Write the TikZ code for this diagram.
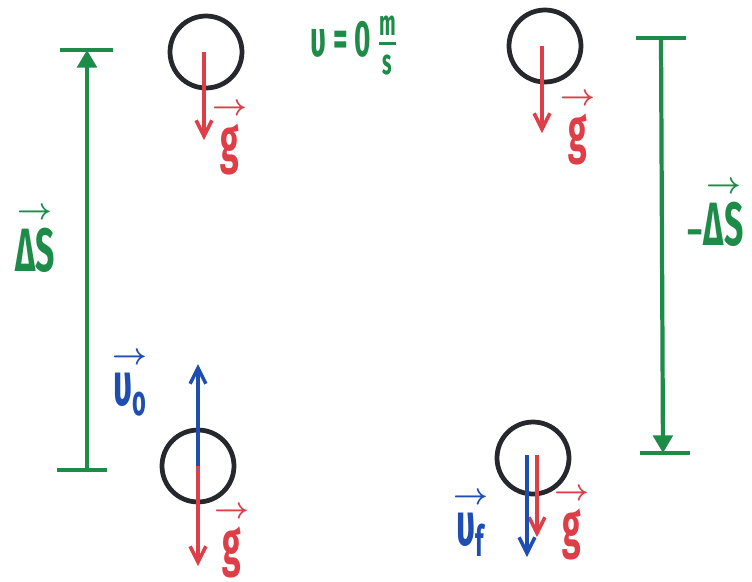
\documentclass[tikz,border=0pt]{standalone}
\usepackage{amsmath}
\usepackage{fontspec}
\setmainfont{Fira Sans}
\usetikzlibrary{arrows.meta}
\definecolor{pgreen}{RGB}{28,140,72}
\definecolor{pred}{RGB}{222,62,72}
\definecolor{pblue}{RGB}{30,78,178}
\definecolor{pblack}{RGB}{38,40,46}
\tikzset{
  ball/.style={circle, draw=pblack, line width=2.7pt, minimum size=1.44cm, inner sep=0pt},
  gvec/.style={pred, line width=2.2pt, -{Straight Barb[length=9pt,width=9pt,line width=2pt]}},
  vvec/.style={pblue, line width=2.2pt, -{Straight Barb[length=9pt,width=9pt,line width=2pt]}},
  ruler/.style={pgreen, line width=2.4pt},
  rulerarrow/.style={pgreen, line width=2.4pt, -{Triangle[length=10pt,width=11pt]}},
  lbl/.style={inner sep=0pt, font=\bfseries\fontsize{24}{26}\selectfont},
}
\newcommand{\hw}[1]{\scalebox{0.8}[1.45]{#1}}
\newcommand{\varr}[1]{$\overset{\scriptstyle\boldsymbol{\rightarrow}}{\text{\hw{#1}}}$}
\begin{document}
\begin{tikzpicture}[x=0.02cm, y=-0.02cm]
\useasboundingbox (0,0) rectangle (752,582);
\fill[white] (0,0) rectangle (752,582);

% balls
\node[ball] (b1) at (206,52) {};
\node[ball] (b2) at (545,46) {};
\node[ball] (b3) at (198,466) {};
\node[ball] (b4) at (533,458) {};

% gravity vectors
\coordinate (g1e) at (204,140);
\coordinate (g2e) at (542,133);
\coordinate (g3e) at (198,566);
\coordinate (g4s) at (537,455);
\coordinate (g4e) at (537,537);
\draw[gvec] (b1.center -| g1e) -- (g1e);
\draw[gvec] (b2.center -| g2e) -- (g2e);
\draw[gvec] (b3.center) -- (g3e);
\draw[gvec] (g4s) -- (g4e);

% velocity vectors
\coordinate (v0e) at (198,364);
\coordinate (vfs) at (527,455);
\coordinate (vfe) at (527,557);
\draw[vvec] (b3.center) -- (v0e);
\draw[vvec] (vfs) -- (vfe);

% left displacement ruler
\coordinate (lt1) at (60,50);
\coordinate (lt2) at (113,50);
\coordinate (ltm) at (87,50);
\coordinate (lb1) at (57,470);
\coordinate (lb2) at (107,470);
\coordinate (lbm) at (87,470);
\draw[ruler] (lt1) -- (lt2);
\draw[ruler] (lb1) -- (lb2);
\draw[rulerarrow] (lbm) -- (ltm);

% right displacement ruler
\coordinate (rt1) at (636,38);
\coordinate (rt2) at (686,38);
\coordinate (rtm) at (661,38);
\coordinate (rb1) at (640,453);
\coordinate (rb2) at (690,453);
\coordinate (rbm) at (663,453);
\draw[ruler] (rt1) -- (rt2);
\draw[ruler] (rb1) -- (rb2);
\draw[rulerarrow] (rtm) -- (rbm);

% labels
\node[lbl, pred] (lg1) at (230,137) {\varr{g}};
\node[lbl, pred] (lg2) at (578,127) {\varr{g}};
\node[lbl, pred] (lg3) at (232,540) {\varr{g}};
\node[lbl, pred] (lg4) at (572,522) {\varr{g}};
\node[lbl, pblue] (lv0) at (130,382) {\varr{υ\textsubscript{o}}};
\node[lbl, pblue] (lvf) at (471,522) {\varr{υ\textsubscript{f}}};
\node[lbl, pgreen] (lds) at (35,238) {\varr{ΔS}};
\node[lbl, pgreen] (lmds) at (715,212) {-\varr{ΔS}};
\node[lbl, pgreen, font=\bfseries\fontsize{20}{22}\selectfont] (lv) at (354,46) {\hw{υ = 0 $\frac{\text{m}}{\text{s}}$}};
\end{tikzpicture}
\end{document}
